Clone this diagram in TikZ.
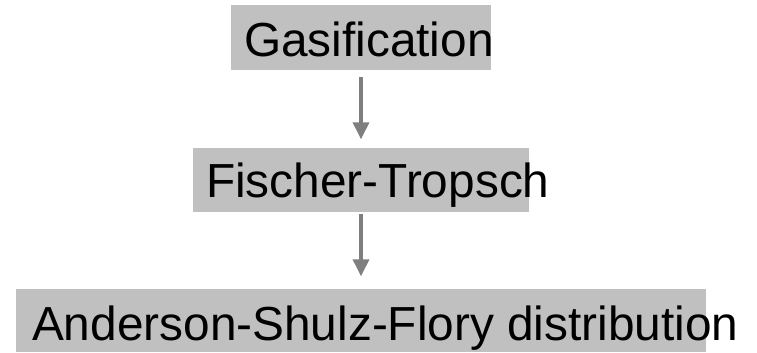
\documentclass[tikz,border=0pt]{standalone}
\usepackage{fontspec}
\setmainfont{Liberation Sans}
\usetikzlibrary{positioning, arrows.meta}
\definecolor{boxgrey}{HTML}{C0C0C0}
\definecolor{arrowgrey}{HTML}{7F7F7F}

\begin{document}
\begin{tikzpicture}[
    % GLOBAL CFG
    font=\fontsize{13.6}{16}\selectfont,
    >={Triangle[width=1.6mm,length=1.7mm]},
    % Styles
    stage/.style={% grey box behind each step
        rectangle,
        fill=boxgrey,
        minimum height=0.65cm,
        inner sep=0pt,
        },
    steptext/.style={% the label of a step, set from the left of its box
        anchor=base west,
        inner sep=0pt,
        },
    flow/.style={% arrows from one step down to the next
        ->,
        draw=arrowgrey,
        line width=0.35mm,
        },
    ]

    % page size
    \useasboundingbox (0,0) rectangle (7.57,3.52);

    % Draw the boxes
    \node [stage, minimum width=2.60cm] (gas) at (3.61,3.14) {};
    \node [stage, minimum width=3.36cm, minimum height=0.64cm] (ft) at (3.61,1.72) {};
    \node [stage, minimum width=6.90cm, minimum height=0.63cm] (asf) at (3.61,0.315) {};

    % Texts, running past the right side of the boxes
    \node [steptext] (gastext) at ([xshift=1.3mm, yshift=-1.9mm]gas.west) {Gasification};
    \node [steptext] (fttext) at ([xshift=1.3mm, yshift=-1.7mm]ft.west) {Fischer-Tropsch};
    \node [steptext] (asftext) at ([xshift=1.6mm, yshift=-1.95mm]asf.west) {Anderson-Shulz-Flory distribution};

    % Arrows
    \draw [flow, shorten <=0.6mm, shorten >=0.8mm] (gas.south) -- (ft.north);
    \draw [flow, shorten <=0.1mm, shorten >=1.2mm] (ft.south) -- (asf.north);

\end{tikzpicture}
\end{document}
